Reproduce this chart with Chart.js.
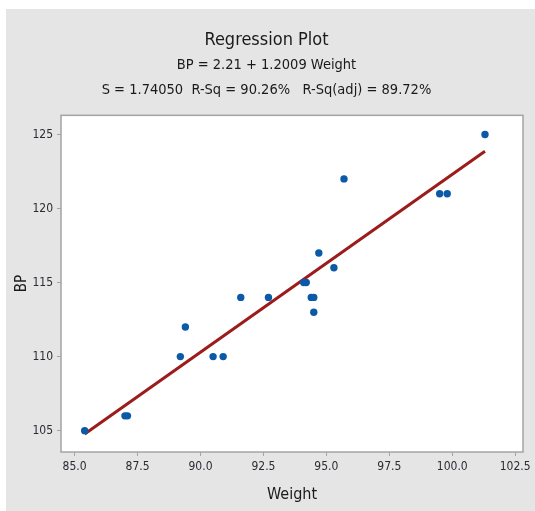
<!DOCTYPE html>
<html>
<head>
<meta charset="utf-8">
<script src="https://cdn.jsdelivr.net/npm/chart.js@4/dist/chart.umd.min.js"></script>
<style>
  html, body { margin: 0; padding: 0; background: #fff; }
  #wrap { width: 535px; height: 511px; }
</style>
</head>
<body>
<div id="wrap"><canvas id="c" width="535" height="511"></canvas></div>
<script>
// Regression plot: BP vs Weight (20 patients)
const weight = [85.4, 94.2, 95.3, 94.7, 89.4, 99.5, 99.8, 90.9, 89.2, 92.7,
                94.4, 94.1, 91.6, 87.1, 101.3, 94.5, 87.0, 94.5, 90.5, 95.7];
const bp     = [105, 115, 116, 117, 112, 121, 121, 110, 110, 114,
                114, 115, 114, 106, 125, 114, 106, 113, 110, 122];

// fitted line end points
const fitX = [85.4, 101.3];
const fitY = [104.77, 123.86];

const titleText = 'Regression Plot';
const subtitleLines = ['BP = 2.21 + 1.2009 Weight',
                       'S = 1.74050  R-Sq = 90.26%   R-Sq(adj) = 89.72%'];

const FONT = '"DejaVu Sans Condensed", "DejaVu Sans", sans-serif';
const BG = '#e5e5e5';
const FRAME = '#a4a4a4';
const DOT = '#0b5aa8';
const FIT = '#9c1c1c';
const TEXT = '#1a1a1a';
const TICK = '#2b2b33';

// grey panel + white plot area with a box around it
const panel = {
  id: 'panel',
  beforeDraw(chart) {
    const { ctx, chartArea: a } = chart;
    ctx.save();
    ctx.fillStyle = BG;
    ctx.fillRect(6, 9, 535 - 6, 511 - 9);
    ctx.fillStyle = '#fff';
    ctx.fillRect(a.left, a.top, a.right - a.left, a.bottom - a.top);
    ctx.strokeStyle = FRAME;
    ctx.lineWidth = 1.5;
    ctx.strokeRect(a.left, a.top, a.right - a.left, a.bottom - a.top);
    ctx.restore();
  },
};

new Chart(document.getElementById('c'), {
  type: 'scatter',
  data: {
    datasets: [
      {
        type: 'line',
        data: fitX.map((x, i) => ({ x, y: fitY[i] })),
        borderColor: FIT, borderWidth: 3, pointRadius: 0, fill: false, order: 2,
      },
      {
        data: weight.map((x, i) => ({ x, y: bp[i] })),
        backgroundColor: DOT, borderWidth: 0, pointRadius: 3.7, order: 1,
      },
    ],
  },
  options: {
    responsive: false,
    animation: false,
    layout: { padding: { left: 10, right: 12, top: 0, bottom: 0 } },
    plugins: {
      legend: { display: false },
      tooltip: { enabled: false },
      title: {
        display: true, text: titleText, color: TEXT,
        font: { family: FONT, size: 18, weight: 'normal', lineHeight: 1.2 },
        padding: { top: 30, bottom: 0 },
      },
      subtitle: {
        display: true, text: subtitleLines, color: TEXT,
        font: { family: FONT, size: 14.5, weight: 'normal', lineHeight: 1.75 },
        padding: { top: 1, bottom: 12 },
      },
    },
    scales: {
      x: {
        type: 'linear', min: 84.46, max: 102.81,
        afterFit(s) { s.height = 59; },
        border: { display: false },
        grid: { drawOnChartArea: false, drawTicks: true, tickLength: 4, color: FRAME },
        ticks: {
          stepSize: 2.5, includeBounds: false, autoSkip: false, maxRotation: 0,
          padding: 4, color: TICK, font: { family: FONT, size: 12 },
          callback: v => v.toFixed(1),
        },
        title: {
          display: true, text: 'Weight', color: TEXT,
          font: { family: FONT, size: 16 }, padding: { top: 0, bottom: 7 },
        },
      },
      y: {
        type: 'linear', min: 103.56, max: 126.29,
        afterFit(s) { s.width = 51; },
        border: { display: false },
        grid: { drawOnChartArea: false, drawTicks: true, tickLength: 4, color: FRAME },
        ticks: {
          stepSize: 5, includeBounds: false, autoSkip: false,
          padding: 4, color: TICK, font: { family: FONT, size: 12 },
        },
        title: {
          display: true, text: 'BP', color: TEXT,
          font: { family: FONT, size: 15 }, padding: { top: 3, bottom: 0 },
        },
      },
    },
  },
  plugins: [panel],
});
</script>
</body>
</html>
